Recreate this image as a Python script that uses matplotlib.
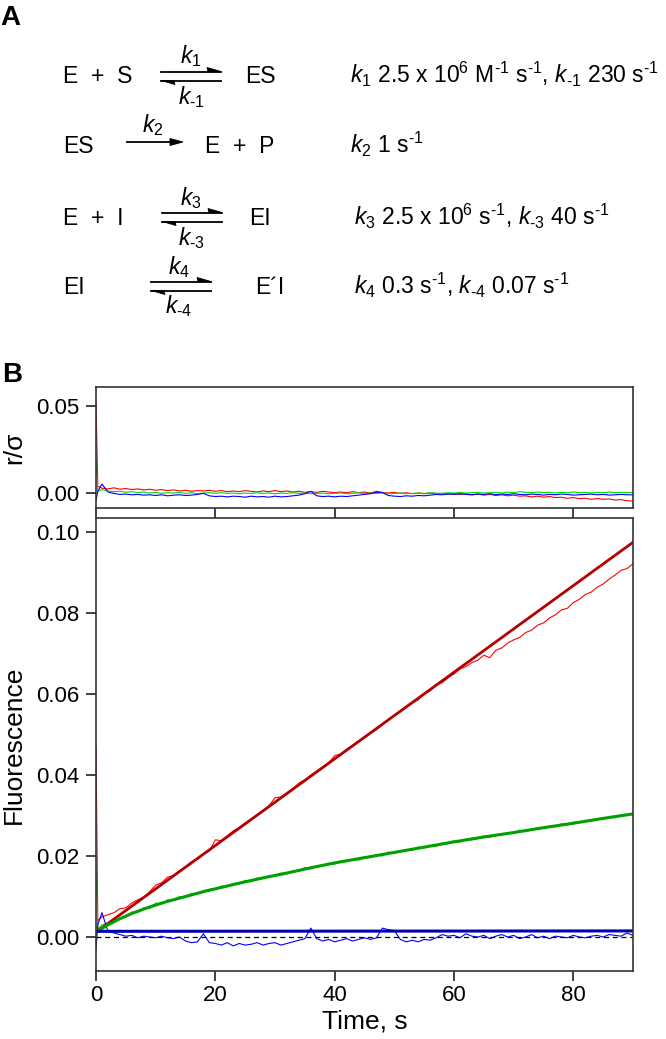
import numpy as np
import matplotlib
matplotlib.use("Agg")
import matplotlib.pyplot as plt

plt.rcParams["font.family"] = ["Liberation Sans", "DejaVu Sans"]
plt.rcParams["mathtext.fontset"] = "custom"
plt.rcParams["mathtext.rm"] = "Liberation Sans"
plt.rcParams["mathtext.it"] = "Liberation Sans:italic"

# time axis of the traces (s)
time = [0, 0.3] + list(range(1, 91))

red_data = [0.047, 0.004,
            0.0050, 0.0055, 0.0060, 0.0070, 0.0072, 0.0084, 0.0092, 0.0098, 0.0112, 0.0128,
            0.0134, 0.0148, 0.0152, 0.0164, 0.0172, 0.0186, 0.0192, 0.0205, 0.0212, 0.0240,
            0.0238, 0.0250, 0.0262, 0.0270, 0.0282, 0.0290, 0.0302, 0.0310, 0.0324, 0.0344,
            0.0346, 0.0356, 0.0366, 0.0380, 0.0388, 0.0400, 0.0410, 0.0420, 0.0430, 0.0448,
            0.0452, 0.0464, 0.0472, 0.0484, 0.0492, 0.0504, 0.0512, 0.0524, 0.0538, 0.0548,
            0.0556, 0.0568, 0.0578, 0.0586, 0.0600, 0.0608, 0.0622, 0.0628, 0.0640, 0.0650,
            0.0662, 0.0668, 0.0678, 0.0684, 0.0696, 0.0690, 0.0708, 0.0714, 0.0726, 0.0734,
            0.0740, 0.0752, 0.0758, 0.0770, 0.0776, 0.0788, 0.0796, 0.0808, 0.0812, 0.0826,
            0.0834, 0.0846, 0.0852, 0.0864, 0.0872, 0.0884, 0.0894, 0.0906, 0.0910, 0.0922]

green_data = [0.016, 0.0020,
              0.0030, 0.0034, 0.0040, 0.0046, 0.0050, 0.0062, 0.0060, 0.0072, 0.0070, 0.0084,
              0.0082, 0.0092, 0.0090, 0.0100, 0.0098, 0.0108, 0.0106, 0.0114, 0.0118, 0.0120,
              0.0126, 0.0124, 0.0132, 0.0130, 0.0140, 0.0136, 0.0146, 0.0144, 0.0152, 0.0150,
              0.0158, 0.0156, 0.0164, 0.0162, 0.0172, 0.0168, 0.0176, 0.0174, 0.0182, 0.0180,
              0.0188, 0.0186, 0.0192, 0.0190, 0.0198, 0.0196, 0.0204, 0.0200, 0.0210, 0.0206,
              0.0212, 0.0216, 0.0214, 0.0222, 0.0220, 0.0226, 0.0224, 0.0232, 0.0230, 0.0238,
              0.0234, 0.0242, 0.0240, 0.0244, 0.0250, 0.0246, 0.0254, 0.0252, 0.0258, 0.0256,
              0.0264, 0.0260, 0.0266, 0.0270, 0.0268, 0.0274, 0.0272, 0.0280, 0.0276, 0.0284,
              0.0282, 0.0288, 0.0286, 0.0292, 0.0290, 0.0298, 0.0294, 0.0302, 0.0300, 0.0304]

blue_data = [-0.0030, 0.0030,
             0.0060, 0.0014, 0.0010, 0.0006, 0.0002, 0.0004, -0.0002, 0.0002, 0.0000, -0.0002,
             0.0002, -0.0002, -0.0004, 0.0000, -0.0010, -0.0014, -0.0012, 0.0008, -0.0014, -0.0016,
             -0.0020, -0.0014, -0.0022, -0.0016, -0.0020, -0.0018, -0.0014, -0.0020, -0.0016, -0.0014,
             -0.0020, -0.0016, -0.0012, -0.0008, -0.0004, 0.0022, -0.0004, -0.0010, -0.0006, -0.0012,
             -0.0008, -0.0004, -0.0010, -0.0006, -0.0002, -0.0006, -0.0002, 0.0022, 0.0018, 0.0016,
             -0.0006, -0.0012, -0.0008, -0.0012, -0.0006, -0.0008, -0.0002, 0.0006, 0.0002, 0.0004,
             -0.0002, 0.0008, 0.0002, 0.0000, 0.0004, -0.0004, 0.0002, 0.0006, 0.0000, 0.0004,
             -0.0004, 0.0000, 0.0006, -0.0002, 0.0002, -0.0004, 0.0002, 0.0000, -0.0002, 0.0004,
             0.0000, -0.0002, 0.0002, 0.0004, 0.0000, 0.0006, 0.0004, 0.0002, 0.0010, 0.0004]

# fitted curves
red_fit_t = [0, 90]
red_fit = [0.0012, 0.0975]
green_fit_t = [0, 2, 4, 6, 8, 10, 12, 14, 16, 18, 20, 24, 28, 32, 36, 40, 45, 50, 55, 60,
               65, 70, 75, 80, 85, 90]
green_fit = [0.0012, 0.0030, 0.0045, 0.0058, 0.0069, 0.0079, 0.0088, 0.0096, 0.0104, 0.0112,
             0.0119, 0.0133, 0.0146, 0.0158, 0.0171, 0.0183, 0.0196, 0.0209, 0.0222, 0.0235,
             0.0247, 0.0258, 0.0270, 0.0281, 0.0293, 0.0304]
blue_fit_t = [0, 90]
blue_fit = [0.0014, 0.0015]

# residuals r/sigma
red_res = [0.052, 0.004,
           0.0028, 0.0024, 0.0030, 0.0022, 0.0026, 0.0020, 0.0024, 0.0018, 0.0022, 0.0016,
           0.0020, 0.0014, 0.0018, 0.0012, 0.0016, 0.0010, 0.0014, 0.0012, 0.0016, 0.0010,
           0.0014, 0.0008, 0.0012, 0.0008, 0.0014, 0.0010, 0.0006, 0.0012, 0.0008, 0.0014,
           0.0008, 0.0012, 0.0006, 0.0010, 0.0004, 0.0008, 0.0004, 0.0010, 0.0006, 0.0002,
           0.0006, 0.0002, 0.0008, 0.0002, 0.0006, 0.0000, 0.0010, 0.0004, 0.0000, 0.0004,
           -0.0002, 0.0002, -0.0004, 0.0000, -0.0004, 0.0000, -0.0006, -0.0002, -0.0006, -0.0004,
           -0.0008, -0.0004, -0.0010, -0.0006, -0.0012, -0.0008, -0.0014, -0.0010, -0.0016, -0.0012,
           -0.0018, -0.0016, -0.0022, -0.0018, -0.0024, -0.0020, -0.0026, -0.0024, -0.0030, -0.0026,
           -0.0032, -0.0030, -0.0036, -0.0032, -0.0036, -0.0034, -0.0040, -0.0038, -0.0044, -0.0046]

green_res = [0.018, 0.0010,
             0.0020, 0.0012, 0.0008, 0.0010, 0.0004, 0.0008, 0.0002, 0.0006, 0.0000, 0.0004,
             -0.0002, 0.0002, 0.0000, 0.0004, -0.0002, 0.0002, -0.0004, 0.0000, 0.0002, -0.0002,
             0.0002, -0.0002, 0.0000, -0.0004, 0.0000, -0.0002, 0.0002, -0.0002, 0.0000, -0.0004,
             0.0000, -0.0002, 0.0002, -0.0002, 0.0000, -0.0004, -0.0002, 0.0000, -0.0004, -0.0002,
             0.0000, -0.0004, -0.0002, 0.0002, -0.0004, 0.0000, -0.0002, 0.0002, -0.0004, -0.0002,
             0.0000, -0.0004, -0.0002, 0.0000, -0.0002, 0.0002, 0.0000, -0.0002, 0.0002, 0.0000,
             0.0004, 0.0000, 0.0002, 0.0004, 0.0000, 0.0002, 0.0004, 0.0000, 0.0006, 0.0002,
             0.0008, 0.0004, 0.0002, 0.0006, 0.0002, 0.0004, 0.0000, 0.0004, 0.0002, 0.0006,
             0.0002, 0.0004, 0.0000, 0.0004, 0.0002, 0.0006, 0.0002, 0.0004, 0.0002, 0.0004]

blue_res = [-0.0044, 0.0010,
            0.0052, 0.0006, -0.0002, -0.0008, -0.0006, -0.0010, -0.0008, -0.0012, -0.0010, -0.0014,
            -0.0010, -0.0016, -0.0012, -0.0010, -0.0014, -0.0012, -0.0008, -0.0002, -0.0016, -0.0020,
            -0.0018, -0.0022, -0.0018, -0.0020, -0.0024, -0.0018, -0.0022, -0.0020, -0.0024, -0.0018,
            -0.0022, -0.0020, -0.0016, -0.0012, -0.0004, 0.0010, -0.0016, -0.0020, -0.0018, -0.0022,
            -0.0018, -0.0020, -0.0016, -0.0012, -0.0008, -0.0004, 0.0004, 0.0002, -0.0014, -0.0018,
            -0.0020, -0.0016, -0.0018, -0.0014, -0.0016, -0.0012, -0.0008, -0.0010, -0.0006, -0.0008,
            -0.0004, -0.0008, -0.0010, -0.0006, -0.0008, -0.0004, -0.0010, -0.0006, -0.0008, -0.0004,
            -0.0008, -0.0010, -0.0006, -0.0008, -0.0012, -0.0008, -0.0010, -0.0006, -0.0008, -0.0012,
            -0.0010, -0.0008, -0.0006, -0.0010, -0.0008, -0.0012, -0.0010, -0.0008, -0.0010, -0.0010]

x_ticks = [0, 20, 40, 60, 80]
fluor_ticks = [0.00, 0.02, 0.04, 0.06, 0.08, 0.10]
res_ticks = [0.00, 0.05]

W, H = 666, 1039
fig = plt.figure(figsize=(W / 100, H / 100), dpi=100)

# ---- panel A: reaction scheme drawn in pixel coordinates ----
sch = fig.add_axes([0, 0, 1, 1])
sch.set_xlim(0, W)
sch.set_ylim(H, 0)
sch.axis("off")

fs = 16.5
HY = "\u2010"  # short hyphen used in the subscripts/superscripts
sch.text(0, 18, "A", fontsize=20, fontweight="bold", va="center", ha="left")
sch.text(2, 375, "B", fontsize=20, fontweight="bold", va="center", ha="left")


def harpoons(x0, x1, y):
    # equilibrium arrows: upper points right, lower points left
    yu, yl = y - 4.5, y + 4.5
    sch.plot([x0, x1], [yu, yu], color="black", lw=1.3)
    sch.fill([x1, x1 - 13, x1 - 14], [yu, yu, yu - 4], color="black", lw=0.6)
    sch.plot([x0, x1], [yl, yl], color="black", lw=1.3)
    sch.fill([x0, x0 + 13, x0 + 14], [yl, yl, yl + 4], color="black", lw=0.6)


def arrow(x0, x1, y):
    sch.plot([x0, x1 - 6], [y, y], color="black", lw=1.3)
    sch.fill([x1, x1 - 13, x1 - 13], [y, y - 3.5, y + 3.5], color="black", lw=0.6)


def sup(s):
    return "$^{" + s + "}$"


def kk(s):
    return "$k_{" + s + "}$"


m1 = sup(HY + "1")
# row 1
sch.text(63, 83, "E  +  S", fontsize=fs, va="baseline")
harpoons(161, 221, 76)
sch.text(191, 56, kk("1"), fontsize=fs, ha="center", va="center")
sch.text(191, 97, kk(HY + "1"), fontsize=fs, ha="center", va="center")
sch.text(245, 83, "ES", fontsize=fs, va="baseline")
sch.text(350, 83, kk("1") + " 2.5 x 10" + sup("6") + " M" + m1 + " s" + m1 + ", "
         + kk(HY + "1") + " 230 s" + m1, fontsize=fs, va="baseline")
# row 2
sch.text(63, 153, "ES", fontsize=fs, va="baseline")
arrow(127, 183, 142)
sch.text(153, 125, kk("2"), fontsize=fs, ha="center", va="center")
sch.text(205, 153, "E  +  P", fontsize=fs, va="baseline")
sch.text(350, 153, kk("2") + " 1 s" + m1, fontsize=fs, va="baseline")
# row 3
sch.text(63, 225, "E  +  I", fontsize=fs, va="baseline")
harpoons(162, 222, 217)
sch.text(191, 198, kk("3"), fontsize=fs, ha="center", va="center")
sch.text(191, 238, kk(HY + "3"), fontsize=fs, ha="center", va="center")
sch.text(249, 225, "EI", fontsize=fs, va="baseline")
sch.text(354, 225, kk("3") + " 2.5 x 10" + sup("6") + " s" + m1 + ", " + kk(HY + "3")
         + " 40 s" + m1, fontsize=fs, va="baseline")
# row 4
sch.text(63, 294, "EI", fontsize=fs, va="baseline")
harpoons(151, 211, 286)
sch.text(179, 267, kk("4"), fontsize=fs, ha="center", va="center")
sch.text(179, 306, kk(HY + "4"), fontsize=fs, ha="center", va="center")
sch.text(255, 294, "E\u00b4I", fontsize=fs, va="baseline")
sch.text(354, 294, kk("4") + " 0.3 s" + m1 + ", " + kk(HY + "4") + " 0.07 s" + m1,
         fontsize=fs, va="baseline")

# ---- panel B ----
left, right = 96, 633
ax_r = fig.add_axes([left / W, 1 - 508 / H, (right - left) / W, (508 - 387) / H])
ax_f = fig.add_axes([left / W, 1 - 971 / H, (right - left) / W, (971 - 518) / H])

for ax in (ax_r, ax_f):
    for sp in ax.spines.values():
        sp.set_color("#333333")
        sp.set_linewidth(1.2)
    ax.tick_params(direction="out", length=7, width=1.2, color="#222222",
                   labelsize=16, pad=3)
    ax.tick_params(axis="y", pad=5)
    ax.set_xlim(0, 90)
    ax.set_xticks(x_ticks)

ax_r.plot(time, red_res, color="#ff0000", lw=0.8)
ax_r.plot(time, green_res, color="#00dd00", lw=0.8)
ax_r.plot(time, blue_res, color="#0000ff", lw=0.8)
ax_r.set_ylim(-0.0086, 0.061)
ax_r.set_yticks(res_ticks)
ax_r.set_yticklabels([f"{v:.2f}" for v in res_ticks])
ax_r.set_xticklabels([])
ax_r.set_ylabel("r/\u03c3", fontsize=19)
ax_r.yaxis.set_label_coords(-0.13, 0.5)

ax_f.plot(time, red_data, color="#ff0000", lw=0.8)
ax_f.plot(time, green_data, color="#00dd00", lw=0.8)
ax_f.plot(time, blue_data, color="#0000ff", lw=0.8)
ax_f.axhline(0, color="black", lw=0.9, ls=(0, (4, 3)))
ax_f.plot(red_fit_t, red_fit, color="#b40000", lw=2)
ax_f.plot(green_fit_t, green_fit, color="#00a000", lw=2.2)
ax_f.plot(blue_fit_t, blue_fit, color="#0000b0", lw=2.2)
ax_f.set_ylim(-0.0084, 0.1035)
ax_f.set_yticks(fluor_ticks)
ax_f.set_yticklabels([f"{v:.2f}" for v in fluor_ticks])
ax_f.set_xticklabels([str(v) for v in x_ticks])
ax_f.set_ylabel("Fluorescence", fontsize=19)
ax_f.yaxis.set_label_coords(-0.13, 0.5)
ax_f.set_xlabel("Time, s", fontsize=19)
ax_f.xaxis.set_label_coords(0.5, -0.085)

fig.savefig("out.png", dpi=100)
